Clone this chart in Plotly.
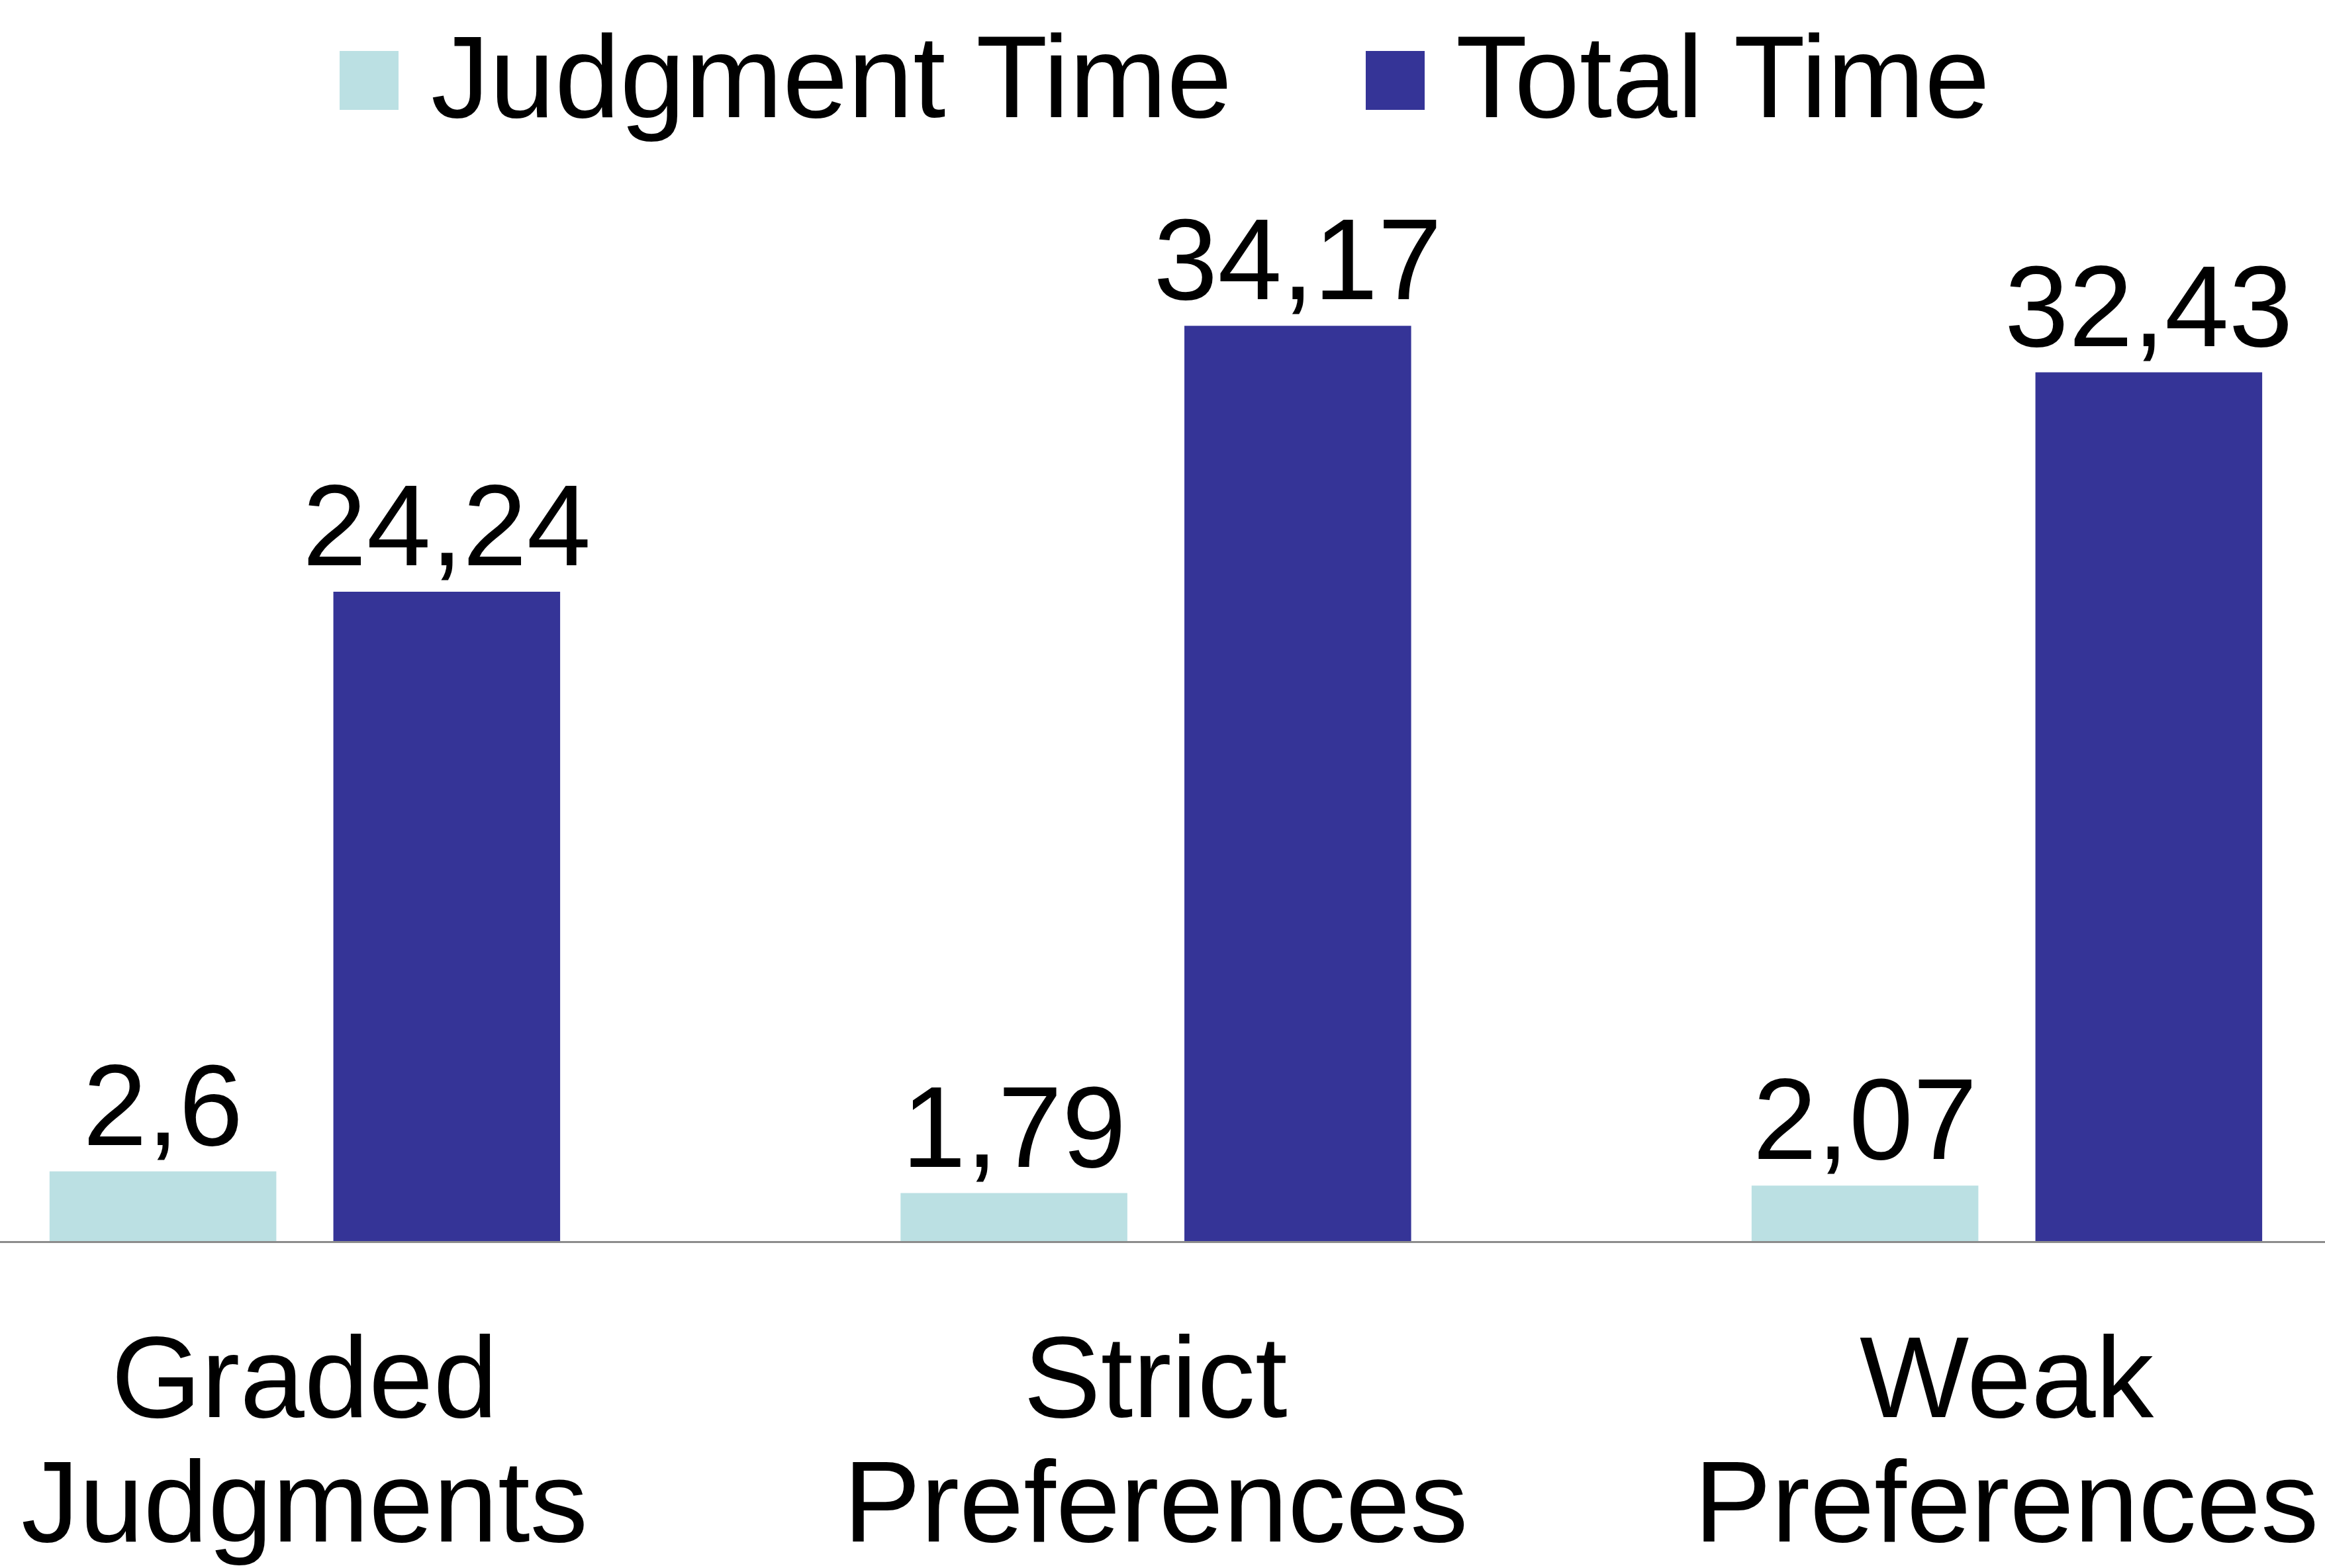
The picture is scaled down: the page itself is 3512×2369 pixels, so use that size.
import plotly.graph_objects as go

# ---- data ----
categories = ["Graded Judgments", "Strict Preferences", "Weak Preferences"]
category_lines = [["Graded", "Judgments"], ["Strict", "Preferences"], ["Weak", "Preferences"]]
series_names = ["Judgment Time", "Total Time"]
judgment_time = [2.6, 1.79, 2.07]
total_time = [24.24, 34.17, 32.43]
series_values = [judgment_time, total_time]
series_colors = ["#BBE0E3", "#353497"]

W, H = 3512, 2369
MB = 494
PLOT_H = H - MB
FONT = "Liberation Sans, Arial, sans-serif"
CAT_FS = 175
LEG_FS = 177
LBL_FS = 174


def fmt(v):
    return f"{v:g}".replace(".", ",")


def py(px):  # pixel from top -> paper y
    return (PLOT_H - px) / PLOT_H


def pxx(px):  # pixel from left -> paper x
    return px / W


fig = go.Figure()
for name, vals, col in zip(series_names, series_values, series_colors):
    fig.add_trace(go.Bar(
        x=categories, y=vals, name=name,
        marker=dict(color=col, line=dict(width=0)),
        text=[fmt(v) for v in vals],
        textposition="outside",
        textfont=dict(size=LBL_FS, color="black", family=FONT),
        constraintext="none",
        cliponaxis=False,
        showlegend=False,
    ))

annotations = []
# category labels (two lines each)
line_px = [2141, 2329]
for cat, lines in zip(categories, category_lines):
    for ln, base in zip(lines, line_px):
        annotations.append(dict(
            x=cat, xref="x", y=py(base - 0.3465 * CAT_FS), yref="paper",
            text=ln, showarrow=False, xanchor="center", yanchor="middle",
            font=dict(size=CAT_FS, color="black", family=FONT),
        ))

# manual legend
shapes = []
legend_sq = [(513, 602), (2063, 2152)]
legend_txt_x = [649, 2197]
for name, col, (x0, x1), tx in zip(series_names, series_colors, legend_sq, legend_txt_x):
    shapes.append(dict(type="rect", xref="paper", yref="paper",
                       x0=pxx(x0), x1=pxx(x1), y0=py(166), y1=py(77),
                       fillcolor=col, line=dict(width=0)))
    annotations.append(dict(
        x=pxx(tx), xref="paper", y=py(177 - 0.3465 * LEG_FS), yref="paper",
        text=name, showarrow=False, xanchor="left", yanchor="middle",
        font=dict(size=LEG_FS, color="black", family=FONT),
    ))

fig.update_layout(
    width=W, height=H,
    margin=dict(l=0, r=0, t=0, b=MB, pad=0),
    paper_bgcolor="white", plot_bgcolor="white",
    barmode="group", bargap=0.333, bargroupgap=0.201,
    font=dict(family=FONT, color="black"),
    xaxis=dict(type="category", range=[-0.3582, 2.3738], showticklabels=False,
               showgrid=False, zeroline=False, ticks="",
               showline=True, linecolor="#8C8C8C", linewidth=3),
    yaxis=dict(range=[0, PLOT_H / 40.47], visible=False, showgrid=False, zeroline=False),
    annotations=annotations,
    shapes=shapes,
)

fig.write_html("out.html")
